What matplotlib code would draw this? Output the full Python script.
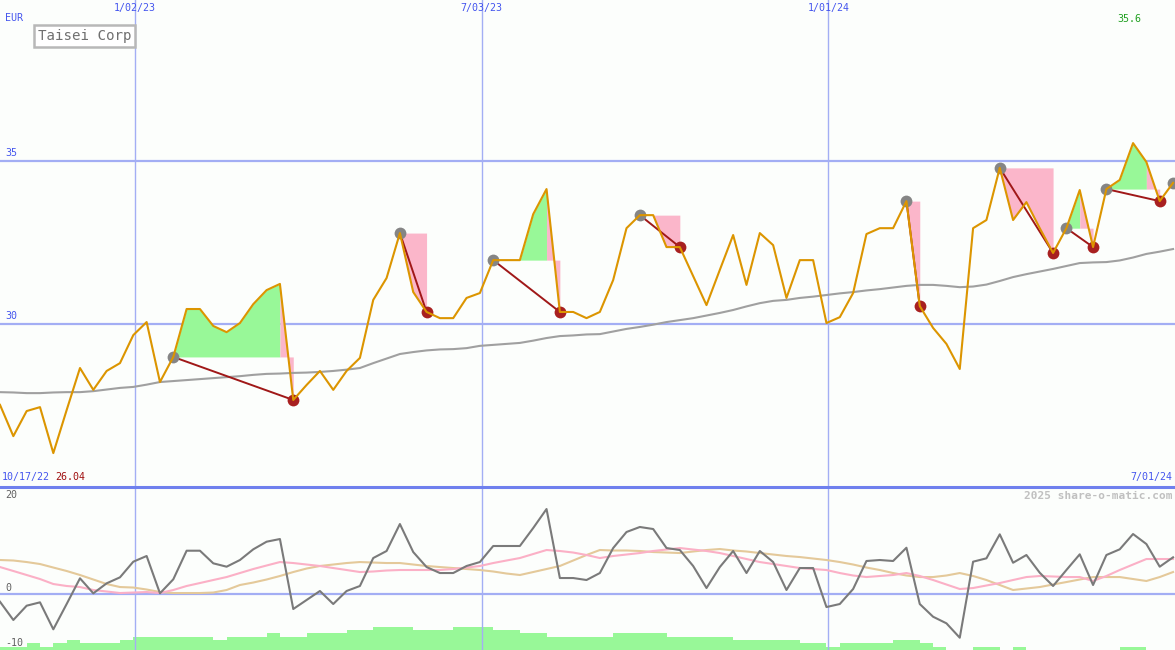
import numpy as np
import pandas as pd
import matplotlib
matplotlib.use('Agg')
import matplotlib.pyplot as plt
from matplotlib.lines import Line2D

# weekly closes (EUR)
price = [27.52, 26.56, 27.33, 27.45, 26.04, 27.36, 28.65, 27.98, 28.56, 28.80,
         29.66, 30.06, 28.22, 28.99, 30.46, 30.46, 29.94, 29.75, 30.03, 30.61,
         31.04, 31.23, 27.67, 28.13, 28.56, 27.98, 28.56, 28.96, 30.74, 31.41,
         32.79, 30.98, 30.37, 30.18, 30.18, 30.80, 30.95, 31.96, 31.96, 31.96,
         33.37, 34.14, 30.37, 30.37, 30.18, 30.37, 31.35, 32.94, 33.34, 33.34,
         32.36, 32.36, 31.47, 30.58, 31.66, 32.73, 31.20, 32.79, 32.42, 30.80,
         31.96, 31.96, 30.03, 30.21, 30.95, 32.76, 32.94, 32.94, 33.77, 30.55,
         29.88, 29.39, 28.62, 32.94, 33.19, 34.79, 33.19, 33.74, 32.94, 32.18,
         32.94, 34.11, 32.36, 34.14, 34.42, 35.55, 34.97, 33.77, 34.33]

# slow moving average (grey line in price panel)
ma = [27.91, 27.90, 27.88, 27.88, 27.90, 27.91, 27.91, 27.94, 27.99, 28.04,
      28.07, 28.14, 28.22, 28.25, 28.28, 28.31, 28.34, 28.37, 28.40, 28.44,
      28.47, 28.48, 28.50, 28.51, 28.53, 28.56, 28.60, 28.65, 28.80, 28.94,
      29.08, 29.14, 29.19, 29.22, 29.23, 29.26, 29.33, 29.36, 29.39, 29.42,
      29.49, 29.57, 29.63, 29.65, 29.68, 29.69, 29.77, 29.85, 29.91, 29.98,
      30.06, 30.12, 30.18, 30.26, 30.34, 30.43, 30.54, 30.64, 30.71, 30.74,
      30.80, 30.84, 30.89, 30.94, 30.98, 31.03, 31.07, 31.12, 31.17, 31.20,
      31.20, 31.17, 31.13, 31.15, 31.21, 31.32, 31.44, 31.53, 31.61, 31.69,
      31.78, 31.87, 31.89, 31.90, 31.95, 32.04, 32.15, 32.22, 32.30]

# oscillator panel
osc = [-1.56, -5.25, -2.36, -1.68, -7.13, -2.02, 3.17, 0.14, 2.16, 3.37,
       6.53, 7.68, 0.14, 2.97, 8.75, 8.75, 6.20, 5.52, 6.87, 9.03,
       10.57, 11.11, -3.03, -1.21, 0.61, -2.02, 0.61, 1.62, 7.27, 8.69,
       14.14, 8.48, 5.45, 4.24, 4.24, 5.66, 6.46, 9.70, 9.70, 9.70,
       13.33, 17.17, 3.23, 3.23, 2.83, 4.24, 9.29, 12.53, 13.54, 13.13,
       9.29, 8.89, 5.66, 1.21, 5.45, 8.69, 4.24, 8.69, 6.46, 0.81,
       5.25, 5.25, -2.63, -2.02, 1.01, 6.67, 6.87, 6.67, 9.35, -2.02,
       -4.59, -5.92, -8.83, 6.53, 7.21, 12.06, 6.32, 7.88, 4.30, 1.62,
       4.85, 8.02, 1.82, 7.88, 9.03, 12.12, 10.10, 5.52, 7.41]

osc_pink = [5.45, 4.65, 3.84, 3.03, 2.02, 1.62, 1.41, 0.81, 0.51, 0.20,
            0.30, 0.40, 0.20, 0.81, 1.62, 2.22, 2.83, 3.43, 4.24, 5.05,
            5.76, 6.46, 6.26, 5.96, 5.66, 5.25, 4.85, 4.44, 4.55, 4.75,
            4.85, 4.85, 4.85, 4.85, 5.05, 5.35, 5.66, 6.26, 6.77, 7.27,
            8.08, 8.89, 8.69, 8.38, 7.88, 7.27, 7.68, 7.98, 8.28, 8.69,
            8.99, 9.29, 8.99, 8.69, 8.28, 7.68, 7.07, 6.46, 6.06, 5.66,
            5.25, 5.05, 4.85, 4.24, 3.74, 3.43, 3.64, 3.84, 4.24, 3.64,
            2.83, 1.92, 1.01, 1.21, 1.72, 2.22, 2.83, 3.43, 3.64, 3.54,
            3.43, 3.43, 2.63, 3.64, 4.85, 5.96, 7.07, 7.07, 7.07]

osc_tan = [6.87, 6.77, 6.46, 6.06, 5.35, 4.65, 3.84, 2.93, 2.02, 1.41,
           1.31, 0.91, 0.40, 0.20, 0.20, 0.20, 0.30, 0.81, 1.82, 2.32,
           2.93, 3.64, 4.44, 5.15, 5.66, 5.96, 6.26, 6.46, 6.36, 6.26,
           6.26, 5.96, 5.66, 5.45, 5.25, 5.05, 4.85, 4.55, 4.14, 3.84,
           4.44, 5.05, 5.66, 6.77, 7.88, 8.89, 8.79, 8.79, 8.69, 8.48,
           8.38, 8.28, 8.59, 8.89, 9.09, 8.79, 8.59, 8.28, 7.98, 7.68,
           7.47, 7.17, 6.87, 6.46, 5.96, 5.35, 4.85, 4.24, 3.74, 3.43,
           3.43, 3.74, 4.24, 3.64, 2.83, 1.82, 0.81, 1.11, 1.41, 1.92,
           2.42, 2.93, 3.43, 3.43, 3.43, 3.03, 2.63, 3.43, 4.44]

volume = [1, 1, 2, 1, 2, 3, 2, 2, 2, 3,
          4, 4, 4, 4, 4, 4, 3, 4, 4, 4,
          5, 4, 4, 5, 5, 5, 6, 6, 7, 7,
          7, 6, 6, 6, 7, 7, 7, 6, 6, 5,
          5, 4, 4, 4, 4, 4, 5, 5, 5, 5,
          4, 4, 4, 4, 4, 3, 3, 3, 3, 3,
          2, 2, 1, 2, 2, 2, 2, 3, 3, 2,
          1, 0, 0, 1, 1, 0, 1, 0, 0, 0,
          0, 0, 0, 0, 1, 1, 0, 0, 0]

peak_idx = [13, 30, 37, 48, 68, 75, 80, 83, 88]
trough_idx = [22, 32, 42, 51, 69, 79, 82, 87]

start = pd.Timestamp('2022-10-23')
tick_dates = ['2023-01-02', '2023-07-03', '2024-01-01']
tick_labels = ['1/02/23', '7/03/23', '1/01/24']

W, H = 1175, 650
BG = '#fcfefc'
GRID = '#a3aef4'
BLUE_TXT = '#4455ee'
MONO = ['DejaVu Sans Mono']

x = np.arange(len(price))
p = np.array(price)
xmax = (W / 13.33)
tick_pos = [(pd.Timestamp(d) - start).days / 7 for d in tick_dates]

fig = plt.figure(figsize=(W / 100, H / 100), dpi=100, facecolor=BG)
lower_h = 163 / H
ax = fig.add_axes([0, lower_h, 1, 1 - lower_h])
axv = fig.add_axes([0, 0, 1, lower_h])
ax2 = fig.add_axes([0, 0, 1, lower_h])

for a in (ax, axv, ax2):
    a.set_xlim(0, xmax)
    a.set_xticks([])
    a.set_yticks([])
    for s in a.spines.values():
        s.set_visible(False)
ax.set_facecolor(BG)
axv.set_facecolor(BG)
ax2.patch.set_alpha(0)

# ---- price panel ----
ax.set_ylim(25.0, 39.94)
for lv in (35, 30):
    ax.axhline(lv, color=GRID, lw=1.6, zorder=0)
for tp in tick_pos:
    ax.axvline(tp, color=GRID, lw=1, zorder=0)

green = '#98f898'
pink = '#fbb6ca'
for pk, tr in zip(peak_idx, trough_idx):
    level = p[pk]
    above = [i for i in range(pk, tr + 1) if p[i] > level]
    j = above[-1] if above else pk
    if j > pk:
        xs = x[pk:j + 1]
        ax.fill_between(xs, p[pk:j + 1], level, where=p[pk:j + 1] >= level,
                        interpolate=True, color=green, lw=0, zorder=1)
    xs = x[j:tr + 1]
    ax.fill_between(xs, p[j:tr + 1], level, interpolate=True,
                    color=pink, lw=0, zorder=1)

ax.plot(x, ma, color='#a0a0a0', lw=1.5, zorder=2)

for pk, tr in zip(peak_idx, trough_idx):
    ax.plot([pk, tr], [p[pk], p[tr]], color='#a01818', lw=1.4, zorder=3)

ax.plot(peak_idx, p[peak_idx], 'o', color='#858585', ms=8.5, mew=0, zorder=4)
ax.plot(trough_idx, p[trough_idx], 'o', color='#a82020', ms=8.5, mew=0, zorder=4)
ax.plot(x, p, color='#dc9500', lw=1.5, zorder=5)

# labels in the price panel
fs = 7.2
for tp, lab in zip(tick_pos, tick_labels):
    ax.text(tp, 1 - 3 / 487, lab, transform=ax.get_xaxis_transform(),
            ha='center', va='top', fontsize=fs, color=BLUE_TXT, family=MONO)
ax.text(5 / W * xmax, 1 - 13 / 487, 'EUR', transform=ax.get_xaxis_transform(),
        ha='left', va='top', fontsize=fs, color=BLUE_TXT, family=MONO)
ax.text(1117 / W * xmax, 1 - 14 / 487, '35.6', transform=ax.get_xaxis_transform(),
        ha='left', va='top', fontsize=fs, color='#20a020', family=MONO)
ax.text(5 / W * xmax, 35.08, '35', ha='left', va='bottom', fontsize=fs,
        color=BLUE_TXT, family=MONO)
ax.text(5 / W * xmax, 30.08, '30', ha='left', va='bottom', fontsize=fs,
        color=BLUE_TXT, family=MONO)
ax.text(2 / W * xmax, 5 / 487, '10/17/22', transform=ax.get_xaxis_transform(),
        ha='left', va='bottom', fontsize=fs, color=BLUE_TXT, family=MONO)
ax.text(55 / W * xmax, 5 / 487, '26.04', transform=ax.get_xaxis_transform(),
        ha='left', va='bottom', fontsize=fs, color='#a01010', family=MONO)
ax.text(1172 / W * xmax, 5 / 487, '7/01/24', transform=ax.get_xaxis_transform(),
        ha='right', va='bottom', fontsize=fs, color=BLUE_TXT, family=MONO)
ax.text(38 / W * xmax, 1 - 36 / 487, 'Taisei Corp', transform=ax.get_xaxis_transform(),
        ha='left', va='center', fontsize=10.2, color='#707070', family=MONO,
        bbox=dict(boxstyle='square,pad=0.25', facecolor='white',
                  edgecolor='#b8b8b8', lw=1.8))

# ---- oscillator panel ----
axv.set_ylim(0, 49)
axv.bar(x, volume, width=1, align='edge', color='#98f898', lw=0, zorder=1)

ax2.set_ylim(-11.31, 21.62)
ax2.axhline(0, color=GRID, lw=1.6, zorder=0)
for tp in tick_pos:
    ax2.axvline(tp, color=GRID, lw=1, zorder=0)
ax2.plot(x, osc_tan, color='#e4c99a', lw=1.5, zorder=2)
ax2.plot(x, osc_pink, color='#fbb0c6', lw=1.5, zorder=2)
ax2.plot(x, osc, color='#7a7a7a', lw=1.5, zorder=3)

ax2.text(5 / W * xmax, 20, '20', ha='left', va='center', fontsize=fs,
         color='#606060', family=MONO)
ax2.text(5 / W * xmax, 0.3, '0', ha='left', va='bottom', fontsize=fs,
         color='#606060', family=MONO)
ax2.text(5 / W * xmax, -9.8, '-10', ha='left', va='center', fontsize=fs,
         color='#606060', family=MONO)
ax2.text(1172 / W * xmax, 1 - 9 / 163, '2025 share-o-matic.com',
         transform=ax2.get_xaxis_transform(), ha='right', va='center',
         fontsize=8, color='#c0c0c0', family=MONO, fontweight='bold')

# separator between panels
fig.add_artist(Line2D([0, 1], [lower_h, lower_h], transform=fig.transFigure,
                      color='#6f80ee', lw=2.2))

fig.savefig('out.png', dpi=100, facecolor=BG)
